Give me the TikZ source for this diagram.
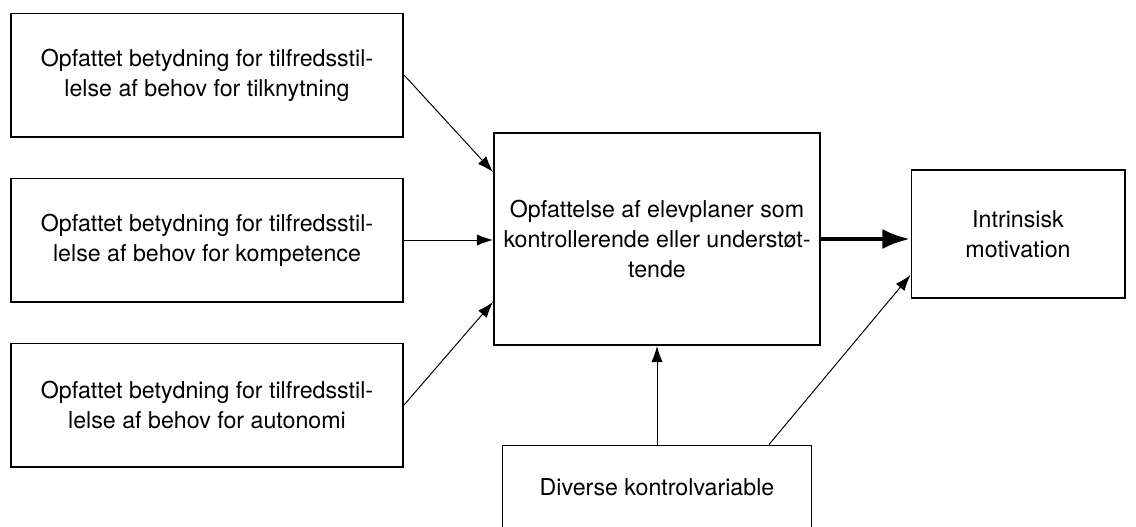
\documentclass[tikz,border=0pt]{standalone}
\usepackage{fontspec}
\setmainfont{TeX Gyre Heros}
\usetikzlibrary{arrows.meta}

\tikzset{
  box/.style={draw, line width=1.4pt, align=center, font=\fontsize{16.5}{21.5}\selectfont},
  thinbox/.style={draw, line width=0.7pt, align=center, font=\fontsize{16.5}{21.5}\selectfont},
  link/.style={-{Latex[length=0.4cm,width=0.28cm]}, line width=0.7pt},
  mainlink/.style={-{Latex[length=0.7cm,width=0.5cm]}, line width=3.5pt}
}

\begin{document}
\begin{tikzpicture}[x=0.025cm, y=-0.025cm]
      \useasboundingbox (0,0) rectangle (1136,526);
      \clip (0,0) rectangle (1136,526);
      \draw
        (207,75) node[box, minimum width=9.8cm, minimum height=3.075cm] (tilk)
          {Opfattet betydning for tilfredsstil-\\lelse af behov for tilknytning}
        (207,240) node[box, minimum width=9.8cm, minimum height=3.075cm] (komp)
          {Opfattet betydning for tilfredsstil-\\lelse af behov for kompetence}
        (207,405) node[box, minimum width=9.8cm, minimum height=3.075cm] (auto)
          {Opfattet betydning for tilfredsstil-\\lelse af behov for autonomi}
        (657,239) node[box, minimum width=8.15cm, minimum height=5.3cm] (elev)
          {Opfattelse af elevplaner som\\kontrollerende eller understøt-\\tende}
        (1018,234) node[box, minimum width=5.325cm, minimum height=3.2cm] (motiv)
          {Intrinsisk\\motivation}
        (657,487) node[thinbox, minimum width=7.7cm, minimum height=2.1cm] (kontrol)
          {Diverse kontrolvariable};
      \begin{scope}[link]
        \draw (tilk.east) to ([yshift=1.675cm]elev.west);
        \draw (komp.east) to (komp.east -| elev.west);
        \draw (auto.east) to ([yshift=-1.575cm]elev.west);
        \draw (kontrol.north) to (elev.south);
        \draw ([xshift=2.8cm]kontrol.north) to ([yshift=-1.025cm]motiv.west);
      \end{scope}
      \draw[mainlink] (elev.east) to (elev.east -| motiv.west);
    \end{tikzpicture}
\end{document}
